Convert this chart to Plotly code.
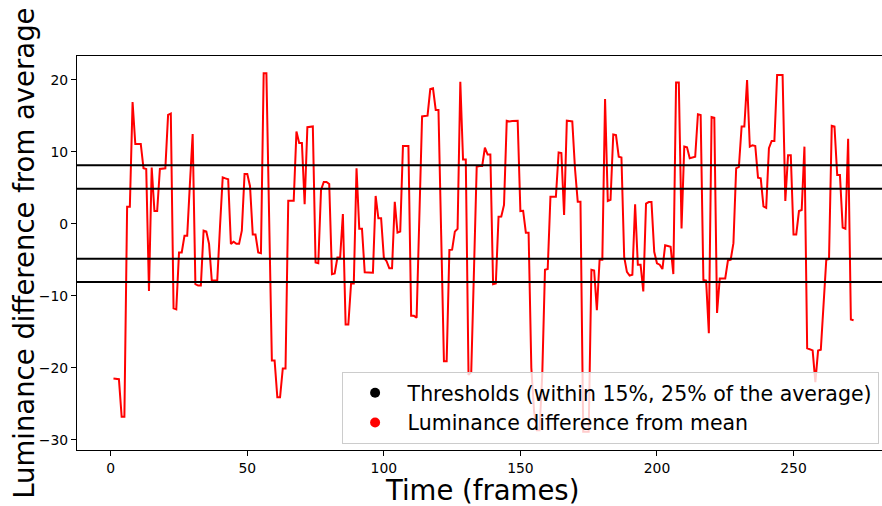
import plotly.graph_objects as go

frames = list(range(1, 273))

luminance_diff = [
    -21.5, -21.5, -21.6, -26.8, -26.8, 2.36, 2.36, 16.9, 11.07, 11.07,
    11.07, 7.7, 7.6, -9.35, 7.8, 1.76, 1.76, 7.6, 7.6, 7.7,
    15.1, 15.3, -11.75, -11.9, -4.0, -4.0, -1.67, -1.67, 5.6, 12.46,
    -8.4, -8.6, -8.6, -0.97, -1.1, -2.8, -7.9, -7.9, -7.9, -0.5,
    6.44, 6.3, 6.17, -2.8, -2.5, -2.8, -2.8, -0.97, 6.9, 6.9,
    5.2, -1.5, -1.5, -4.0, -4.1, 20.9, 20.9, 0.9, -19.0, -19.0,
    -24.1, -24.1, -20.1, -20.1, 3.2, 3.2, 3.2, 12.8, 11.2, 11.2,
    2.7, 13.4, 13.4, 13.5, -5.4, -5.5, 4.7, 5.8, 5.8, 5.5,
    -7.0, -6.9, -4.7, -4.7, 1.35, -14.0, -14.0, -8.3, -8.3, 7.7,
    -0.7, -0.7, -6.75, -6.75, -6.75, -6.8, 3.85, 0.75, 0.75, -4.7,
    -5.2, -6.2, -6.2, 3.05, -1.25, -1.1, 10.8, 10.8, 10.8, -12.8,
    -12.8, -13.05, 1.0, 14.9, 14.95, 15.0, 18.7, 18.8, 15.8, 15.8,
    -1.6, -19.1, -19.1, -3.65, -3.6, -1.1, -0.7, 19.7, 8.9, 8.9,
    -21.0, -20.6, -6.5, 7.9, 8.0, 8.0, 10.55, 9.6, 9.6, -8.4,
    -8.3, 0.97, 1.0, 2.6, 14.3, 14.2, 14.25, 14.25, 14.3, 1.76,
    1.8, -1.25, -1.25, -20.0, -26.0, -28.7, -28.7, -21.0, -6.4, -6.3,
    3.75, 3.75, 3.75, 9.9, 9.8, 1.2, 14.3, 14.25, 14.2, 7.6,
    3.05, 3.05, -28.9, -28.9, -28.9, -6.4, -6.5, -12.0, -5.0, -5.0,
    17.3, 3.15, 3.3, 12.4, 12.3, 9.3, 9.2, -4.6, -6.7, -7.2,
    -7.1, 2.7, -5.7, -5.7, -9.4, 2.8, 3.0, 3.0, -3.9, -5.5,
    -5.7, -6.3, -3.0, -3.1, -3.2, -7.0, 19.6, 19.6, -0.65, 10.7,
    10.6, 9.1, 9.2, 9.3, 15.2, 15.1, -7.8, -7.9, -15.2, 14.8,
    14.7, -12.4, -7.6, -7.6, -7.6, -5.1, -5.0, -2.7, 7.7, 7.9,
    13.5, 13.5, 19.95, 10.7, 10.9, 10.8, 6.4, 6.3, 2.4, 2.2,
    10.5, 11.5, 11.5, 20.65, 20.65, 20.65, 3.15, 9.5, 9.5, -1.5,
    -1.5, 1.76, 1.9, 10.7, -17.3, -17.4, -17.6, -22.0, -17.6, -17.5,
    -12.0, -5.0, -4.9, 13.6, 13.5, 6.76, 6.76, -0.55, -0.7, 11.8,
    -13.3, -13.4,
]

thresholds = [8.1, 4.86, -4.86, -8.1]

x_ticks = [0, 50, 100, 150, 200, 250]
y_ticks = [-30, -20, -10, 0, 10, 20]

legend_labels = ["Thresholds (within 15%, 25% of the average)",
                 "Luminance difference from mean"]
x_title = "Time (frames)"
y_title = "Luminance difference from average"

FONT = "DejaVu Sans"

fig = go.Figure()

fig.add_trace(go.Scatter(
    x=frames, y=luminance_diff, mode="lines",
    line=dict(color="#ff0000", width=2),
    showlegend=False, hoverinfo="skip",
))

# legend-only marker entries
fig.add_trace(go.Scatter(
    x=[None], y=[None], mode="markers",
    marker=dict(color="black", size=10),
    name=legend_labels[0], legendgroup="a",
))
fig.add_trace(go.Scatter(
    x=[None], y=[None], mode="markers",
    marker=dict(color="#ff0000", size=10),
    name=legend_labels[1], legendgroup="b",
))

for t in thresholds:
    fig.add_shape(type="line", xref="x domain", yref="y",
                  x0=0, x1=1, y0=t, y1=t,
                  line=dict(color="black", width=2))

fig.add_annotation(text=y_title, xref="paper", yref="paper",
                   x=-0.0661, y=0.5, xanchor="center", yanchor="middle",
                   textangle=-90, showarrow=False,
                   font=dict(family=FONT, size=27.5, color="black"))
fig.add_annotation(text=x_title, xref="paper", yref="paper",
                   x=0.5037, y=-0.1003, xanchor="center", yanchor="middle",
                   showarrow=False,
                   font=dict(family=FONT, size=27.5, color="black"))

fig.update_layout(
    width=882, height=506,
    margin=dict(l=77, r=0, t=56, b=56),
    paper_bgcolor="white", plot_bgcolor="white",
    font=dict(family=FONT, color="black"),
    legend=dict(
        x=0.3287, y=0.198, xanchor="left", yanchor="top",
        bgcolor="rgba(255,255,255,0.8)", bordercolor="#cccccc", borderwidth=1,
        font=dict(family=FONT, size=20.5, color="black"),
        traceorder="grouped", tracegroupgap=0, itemwidth=55,
    ),
    xaxis=dict(
        range=[-12.35, 282.4], tickvals=x_ticks,
        ticks="outside", ticklen=5, tickwidth=1.1, tickcolor="black",
        showline=True, linecolor="black", linewidth=1.1, mirror=True,
        showgrid=False, zeroline=False,
        tickfont=dict(family=FONT, size=13.9, color="black"),
    ),
    yaxis=dict(
        range=[-31.43, 23.29], tickvals=y_ticks,
        ticks="outside", ticklen=5, tickwidth=1.1, tickcolor="black",
        showline=True, linecolor="black", linewidth=1.1, mirror=False,
        showgrid=False, zeroline=False,
        tickfont=dict(family=FONT, size=13.9, color="black"),
    ),
)

fig.write_html("out.html")
